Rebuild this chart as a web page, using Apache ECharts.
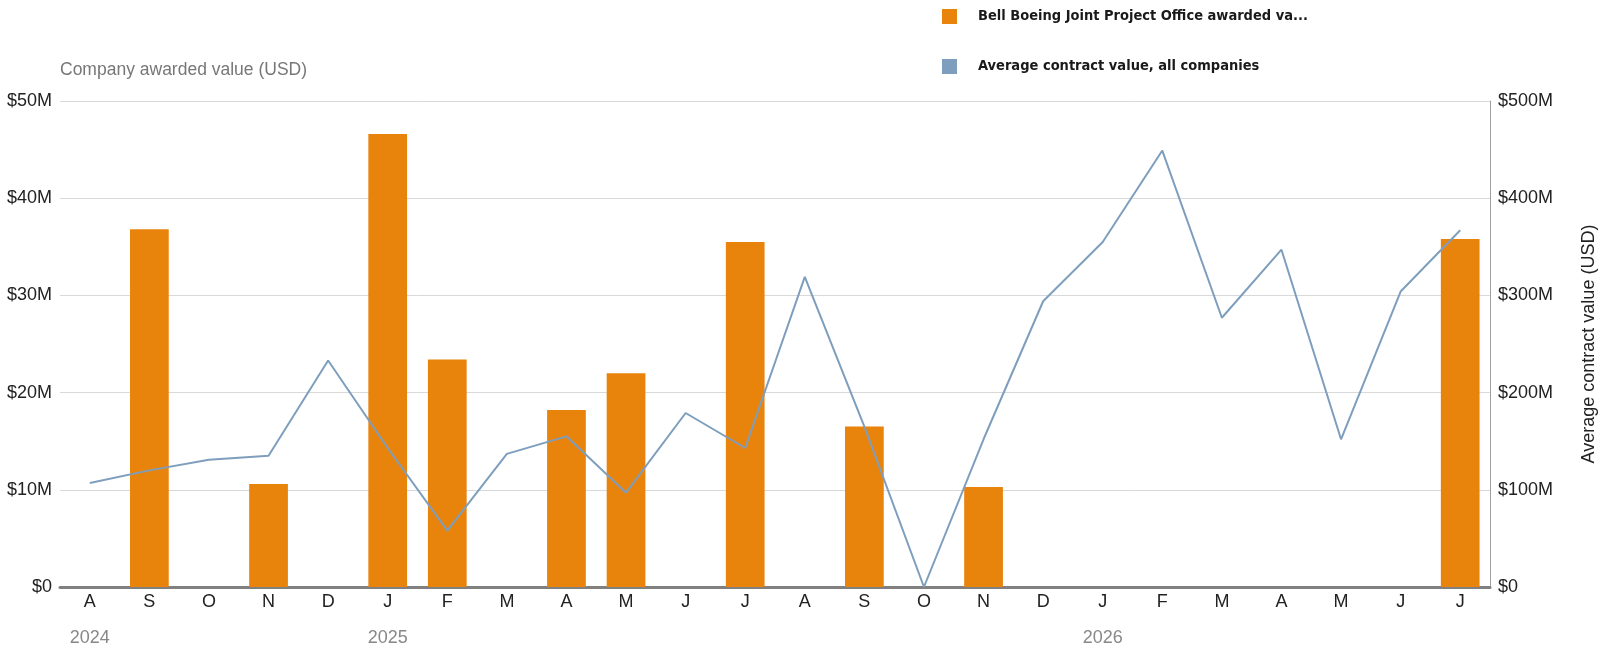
<!DOCTYPE html>
<html>
<head>
<meta charset="utf-8">
<script src="https://cdn.jsdelivr.net/npm/echarts@6/dist/echarts.min.js"></script>
<style>
  html, body { margin: 0; padding: 0; background: #fff; }
  #chart { width: 1606px; height: 656px; }
</style>
</head>
<body>
<div id="chart"></div>
<script>
// months Aug 2024 .. Jul 2026
var months = ['A', 'S', 'O', 'N', 'D', 'J', 'F', 'M', 'A', 'M', 'J', 'J',
              'A', 'S', 'O', 'N', 'D', 'J', 'F', 'M', 'A', 'M', 'J', 'J'];
var years = ['2024', '', '', '', '', '2025', '', '', '', '', '', '',
             '', '', '', '', '', '2026', '', '', '', '', '', ''];
// company awarded value, million USD
var awarded = [0, 36.8, 0, 10.6, 0, 46.6, 23.4, 0, 18.2, 22.0, 0, 35.5,
               0, 16.5, 0, 10.3, 0, 0, 0, 0, 0, 0, 0, 35.8];
// average contract value, all companies, million USD
var average = [107, 120, 131, 135, 233, 143, 58, 137, 155, 97, 179, 143,
               319, 165, 0, 152, 294, 355, 449, 277, 347, 152, 304, 367];
var leftTicks = [0, 10, 20, 30, 40, 50];
var rightTicks = [0, 100, 200, 300, 400, 500];

var barName = 'Bell Boeing Joint Project Office awarded value';
var lineName = 'Average contract value, all companies';

var dom = document.getElementById('chart');
var myChart = echarts.init(dom);
var font = '"Liberation Sans", Arial, sans-serif';

function money(v) {
    return '$' + v + (v === 0 ? '' : 'M');
}

var option = {
    animation: false,
    textStyle: { fontFamily: font },
    legend: {
        orient: 'vertical',
        left: 937,
        top: 4,
        itemWidth: 15,
        itemHeight: 15,
        itemGap: 35,
        icon: 'rect',
        selectedMode: false,
        data: [barName, lineName],
        formatter: function (name) {
            // legend label is cut off in the original
            return name === barName ? 'Bell Boeing Joint Project Office awarded va...' : name;
        },
        textStyle: {
            fontFamily: '"Liberation Sans Narrow", "DejaVu Sans Condensed", sans-serif',
            fontWeight: 'bold',
            fontSize: 14.5,
            color: '#1a1a1a',
            padding: [0, 0, 0, 16]
        }
    },
    grid: {
        left: 60,
        right: 108,
        top: 101,
        bottom: 69
    },
    xAxis: [{
        type: 'category',
        data: months,
        axisLine: { lineStyle: { color: '#808080', width: 3 } },
        axisTick: { show: false },
        axisLabel: { color: '#222', fontSize: 18, margin: 6 }
    }, {
        type: 'category',
        data: years,
        position: 'bottom',
        offset: 40,
        axisLine: { show: false },
        axisTick: { show: false },
        axisLabel: { color: '#888', fontSize: 18, margin: 2, interval: 0 }
    }],
    yAxis: [{
        type: 'value',
        min: leftTicks[0],
        max: leftTicks[leftTicks.length - 1],
        interval: 10,
        name: 'Company awarded value (USD)',
        nameLocation: 'end',
        nameGap: 22,
        nameTextStyle: { color: '#777', fontSize: 17.5, align: 'left' },
        axisLine: { show: false },
        axisTick: { show: false },
        splitLine: { lineStyle: { color: '#d9d9d9', width: 1 } },
        axisLabel: { color: '#222', fontSize: 18, margin: 8, formatter: money }
    }, {
        type: 'value',
        position: 'right',
        min: rightTicks[0],
        max: rightTicks[rightTicks.length - 1],
        interval: 100,
        name: 'Average contract value (USD)',
        nameLocation: 'middle',
        nameRotate: 90,
        nameGap: 90,
        nameTextStyle: { color: '#222', fontSize: 18 },
        axisLine: { show: true, lineStyle: { color: '#a0a0a0', width: 1 } },
        axisTick: { show: false },
        splitLine: { show: false },
        axisLabel: { color: '#222', fontSize: 18, margin: 8, formatter: money }
    }],
    series: [{
        name: barName,
        type: 'bar',
        xAxisIndex: 0,
        yAxisIndex: 0,
        barWidth: '65%',
        itemStyle: { color: '#e8830c' },
        data: awarded
    }, {
        name: lineName,
        type: 'line',
        xAxisIndex: 0,
        yAxisIndex: 1,
        symbol: 'none',
        z: 3,
        itemStyle: { color: '#7e9ebd' },
        lineStyle: { color: '#7e9ebd', width: 2 },
        data: average
    }]
};
if (option && typeof option === "object") {
    myChart.setOption(option, true);
}
</script>
</body>
</html>
